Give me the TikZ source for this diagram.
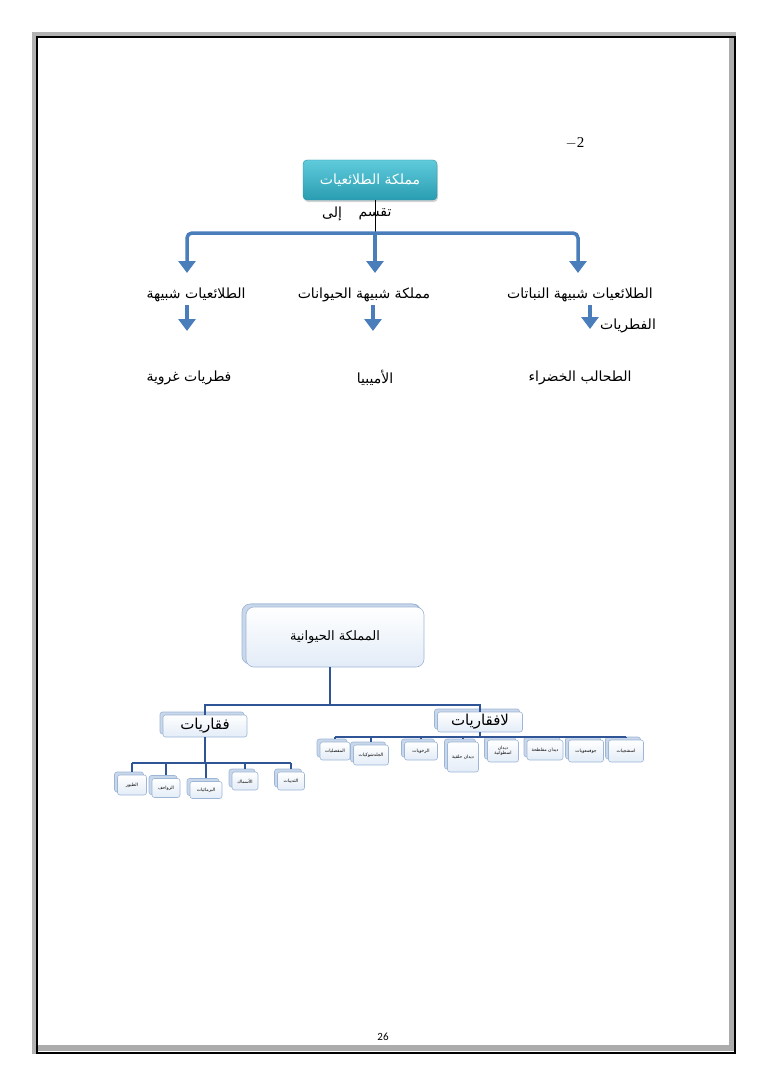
\documentclass[tikz,border=0pt]{standalone}
\usepackage{fontspec}
\setmainfont{Liberation Serif}
\newfontfamily\arabicfont[Script=Arabic]{DejaVu Sans}
\newfontfamily\numfont{Carlito}
\TeXXeTstate=1
\usetikzlibrary{arrows.meta,shadows,calc}
\definecolor{arblue}{HTML}{4A7EBB}
\definecolor{dkblue}{HTML}{2F5597}
\definecolor{boxedge}{HTML}{9DB5D6}
\definecolor{boxsh}{HTML}{C9D7EA}
\definecolor{boxbot}{HTML}{E3ECF7}
\definecolor{tealtop}{HTML}{5FCBDB}
\definecolor{tealbot}{HTML}{2A9DB2}
\newcommand\artx[1]{\arabicfont\beginR #1\endR}
\tikzset{
  lbl/.style={font=\fontsize{14}{16}\selectfont, inner sep=1pt},
  bl/.style={draw=arblue, line width=3.5pt, rounded corners=5pt},
  blhead/.style={-{Triangle[width=17pt,length=12pt]}},
  dk/.style={draw=dkblue, line width=2.5pt},
  stackbox/.style={draw=boxedge, rounded corners=2.5pt, top color=white, bottom color=boxbot,
    line width=0.6pt, inner sep=0pt, align=center,
    general shadow={shadow xshift=-3pt, shadow yshift=3pt, fill=boxsh, draw=boxedge}},
  smallbox/.style={stackbox, font=\fontsize{4.5}{5.5}\selectfont},
}
\begin{document}
\begin{tikzpicture}[x=1pt,y=-1pt]
\useasboundingbox (0,0) rectangle (768,1086);
% page frame
\fill[gray!60] (32,32) rectangle (736,36);
\fill[gray!60] (32,32) rectangle (36,1054);
\fill[gray!65] (729,38) rectangle (734,1051);
\fill[gray!65] (38,1045) rectangle (734,1051);
\draw[black, line width=1.6pt] (37,37) rectangle (735,1053);
% page number and item number
\node[font=\numfont\fontsize{11}{13}\selectfont] (pg) at (383,1037) {26};
\node[font=\fontsize{15}{17}\selectfont] (num) at (575,143) {$-$2};
% ===== top chart =====
\node[rounded corners=4pt, top color=tealtop, bottom color=tealbot, draw=tealbot!90!black,
  minimum width=134pt, minimum height=40pt, text=white, font=\fontsize{14}{16}\selectfont,
  drop shadow={shadow xshift=1pt, shadow yshift=-2pt, opacity=0.35}] (prot) at (370,180) {\artx{مملكة الطلائعيات}};
\coordinate (split) at (375,233);
\draw[black, line width=0.8pt] (prot.south -| split) -- (split);
\node[lbl] (taqsim) at (375,214) {\artx{تقسم}};
\node[lbl] (ila) at (332,214) {\artx{إلى}};
\coordinate (a1) at (187,273);
\coordinate (a2) at (375,273);
\coordinate (a3) at (578,273);
\draw[bl] (split) -- (a2 |- split);
\draw[bl, blhead] (split) -| (a1);
\draw[bl, blhead] (split) -- (a2);
\draw[bl, blhead] (split) -| (a3);
\node[lbl] (t1) at (196,295) {\artx{الطلائعيات شبيهة}};
\node[lbl] (t2) at (364,295) {\artx{مملكة شبيهة الحيوانات}};
\node[lbl] (t3) at (580,295) {\artx{الطلائعيات شبيهة النباتات}};
\node[lbl] (fung) at (628,326) {\artx{الفطريات}};
\coordinate (b1) at (187,331);
\coordinate (b2) at (373,331);
\coordinate (b3) at (590,329);
\draw[bl, blhead] ([yshift=-2pt]t1.south -| b1) -- (b1);
\draw[bl, blhead] ([yshift=-2pt]t2.south -| b2) -- (b2);
\draw[bl, blhead] ([yshift=-2pt]t3.south -| b3) -- (b3);
\node[lbl] (c1) at (189,378) {\artx{فطريات غروية}};
\node[lbl] (c2) at (375,378) {\artx{الأميبيا}};
\node[lbl] (c3) at (580,378) {\artx{الطحالب الخضراء}};
% ===== bottom chart =====
\node[stackbox, rounded corners=8pt, minimum width=178pt, minimum height=60pt,
  general shadow={shadow xshift=-4pt, shadow yshift=3pt, fill=boxsh, draw=boxedge},
  font=\fontsize{13}{15}\selectfont] (animal) at (335,637) {\artx{المملكة الحيوانية}};
\node[stackbox, minimum width=84pt, minimum height=22pt, font=\fontsize{15}{17}\selectfont] (vert) at (205,726) {\artx{فقاريات}};
\node[stackbox, minimum width=85pt, minimum height=20pt, font=\fontsize{15}{17}\selectfont] (invert) at (480,722) {\artx{لافقاريات}};
\coordinate (jm) at (330,705);
\draw[dk] (animal.south -| jm) -- (jm);
\draw[dk] (jm) -| (vert.north);
\draw[dk] (jm) -| (invert.north);
% vertebrates
\node[smallbox, minimum width=29pt, minimum height=20pt] (birds) at (132,785) {\artx{الطيور}};
\node[smallbox, minimum width=28pt, minimum height=19pt] (rept) at (166,788) {\artx{الزواحف}};
\node[smallbox, minimum width=32pt, minimum height=17pt] (amph) at (206,790) {\artx{البرمائيات}};
\node[smallbox, minimum width=26pt, minimum height=18pt] (fish) at (245,781) {\artx{الأسماك}};
\node[smallbox, minimum width=27pt, minimum height=18pt] (mamm) at (291,781) {\artx{الثدييات}};
\coordinate (vh) at (205,763);
\draw[dk, line width=2pt] (vert.south) -- (vh);
\draw[dk, line width=2pt] (birds.north |- vh) -- (mamm.north |- vh);
\foreach \n in {birds,rept,amph,fish,mamm}{
  \draw[dk, line width=1.5pt] (\n.north |- vh) -- ([yshift=3pt]\n.north);
}
% invertebrates
\node[smallbox, minimum width=30pt, minimum height=18pt] (arth) at (335,751) {\artx{المفصليات}};
\node[smallbox, minimum width=35pt, minimum height=20pt] (echi) at (371,755) {\artx{الجلدشوكيات}};
\node[smallbox, minimum width=33pt, minimum height=18pt] (moll) at (421,751) {\artx{الرخويات}};
\node[smallbox, minimum width=31pt, minimum height=30pt] (annel) at (463,757) {\artx{ديدان حلقية}};
\node[smallbox, minimum width=31pt, minimum height=22pt] (nema) at (503,751) {\artx{ديدان}\\\artx{اسطوانية}};
\node[smallbox, minimum width=36pt, minimum height=20pt] (flat) at (545,750) {\artx{ديدان مفلطحة}};
\node[smallbox, minimum width=35pt, minimum height=22pt] (cnid) at (586,751) {\artx{جوفمعويات}};
\node[smallbox, minimum width=35pt, minimum height=22pt] (spon) at (626,751) {\artx{اسفنجيات}};
\coordinate (ih) at (480,737);
\draw[dk, line width=2pt] (invert.south) -- (ih);
\draw[dk, line width=2pt] (arth.north |- ih) -- (spon.north |- ih);
\foreach \n in {arth,echi,moll,annel,nema,flat,cnid,spon}{
  \draw[dk, line width=1.5pt] (\n.north |- ih) -- ([yshift=3pt]\n.north);
}
\end{tikzpicture}
\end{document}
